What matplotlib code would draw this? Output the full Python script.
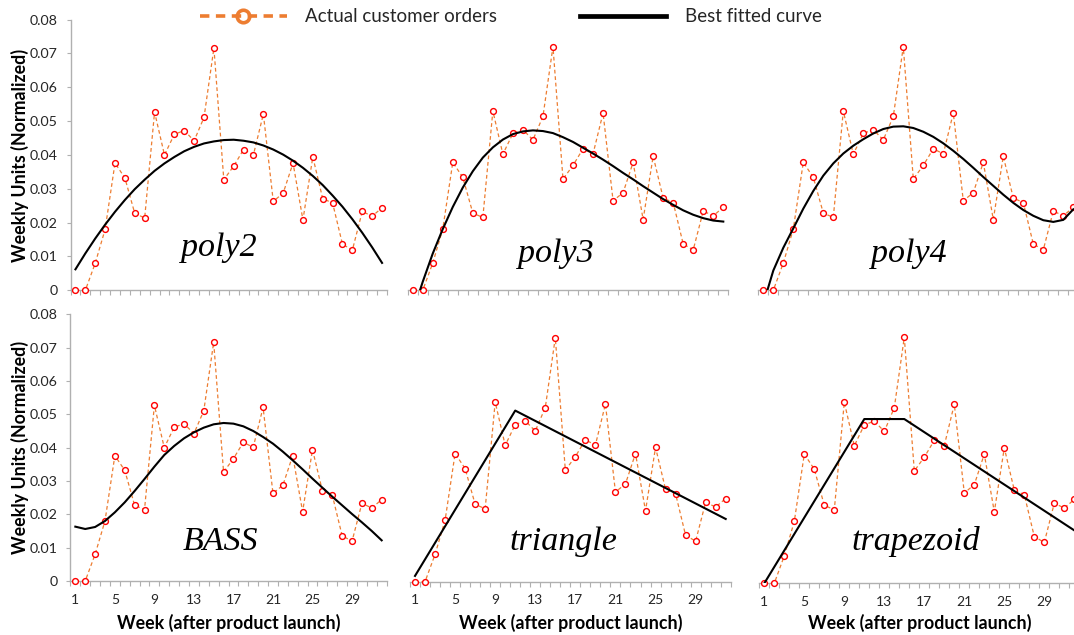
import matplotlib
matplotlib.use("Agg")
import matplotlib.pyplot as plt
from matplotlib.lines import Line2D

# ---------------- data ----------------
weeks = list(range(1, 33))
orders = [0.0, 0.0, 0.0080, 0.0180, 0.0376, 0.0332, 0.0227, 0.0214, 0.0527, 0.0400,
          0.0461, 0.0472, 0.0442, 0.0511, 0.0716, 0.0327, 0.0367, 0.0416, 0.0401, 0.0521,
          0.0263, 0.0287, 0.0376, 0.0208, 0.0394, 0.0271, 0.0258, 0.0136, 0.0119, 0.0233,
          0.0219, 0.0244]

poly2_fit = [0.0062, 0.0109, 0.0153, 0.0194, 0.0232, 0.0267, 0.0299, 0.0327, 0.0353, 0.0375,
             0.0394, 0.0411, 0.0424, 0.0434, 0.0440, 0.0444, 0.0445, 0.0442, 0.0437, 0.0428,
             0.0416, 0.0401, 0.0383, 0.0362, 0.0338, 0.0311, 0.0280, 0.0247, 0.0210, 0.0170,
             0.0127, 0.0081]
poly3_fit = [-0.0066, 0.0025, 0.0108, 0.0180, 0.0245, 0.0302, 0.0350, 0.0390, 0.0420, 0.0443,
             0.0459, 0.0467, 0.0470, 0.0468, 0.0462, 0.0450, 0.0436, 0.0419, 0.0402, 0.0384,
             0.0365, 0.0345, 0.0326, 0.0306, 0.0287, 0.0268, 0.0251, 0.0235, 0.0222, 0.0212,
             0.0205, 0.0202]
poly4_fit = [-0.0040, 0.0058, 0.0125, 0.0182, 0.0240, 0.0292, 0.0337, 0.0373, 0.0402, 0.0425,
             0.0444, 0.0461, 0.0474, 0.0481, 0.0482, 0.0477, 0.0466, 0.0451, 0.0432, 0.0410,
             0.0386, 0.0360, 0.0333, 0.0307, 0.0281, 0.0257, 0.0236, 0.0219, 0.0206, 0.0201,
             0.0207, 0.0238]
bass_fit = [0.0163, 0.0156, 0.0162, 0.0180, 0.0206, 0.0236, 0.0270, 0.0306, 0.0343, 0.0378,
            0.0405, 0.0428, 0.0446, 0.0460, 0.0470, 0.0474, 0.0472, 0.0464, 0.0450, 0.0432,
            0.0412, 0.0388, 0.0362, 0.0335, 0.0307, 0.0280, 0.0253, 0.0227, 0.0201, 0.0176,
            0.0150, 0.0122]
triangle_weeks = [1, 11, 32]
triangle_fit = [0.0017, 0.0502, 0.0184]
trapezoid_weeks = [1, 11, 15, 32]
trapezoid_fit = [0.0, 0.0478, 0.0478, 0.0154]

ytick_vals = [0, 0.01, 0.02, 0.03, 0.04, 0.05, 0.06, 0.07, 0.08]
ytick_labels = ["0", "0.01", "0.02", "0.03", "0.04", "0.05", "0.06", "0.07", "0.08"]
xtick_weeks = [1, 5, 9, 13, 17, 21, 25, 29]
xtick_labels = ["1", "5", "9", "13", "17", "21", "25", "29"]

panel_names = ["poly2", "poly3", "poly4", "BASS", "triangle", "trapezoid"]
fit_x = [weeks, weeks, weeks, weeks, triangle_weeks, trapezoid_weeks]
fit_y = [poly2_fit, poly3_fit, poly4_fit, bass_fit, triangle_fit, trapezoid_fit]

legend_labels = ["Actual customer orders", "Best fitted curve"]
xlabel_text = "Week (after product launch)"
ylabel_text = "Weekly Units (Normalized)"

# ---------------- layout (pixels) ----------------
W, H = 1074, 635
fig = plt.figure(figsize=(W / 100, H / 100), dpi=100)
fig.patch.set_facecolor("white")

# (left px of week 0.5, right px of week 32.5, px of value 0, px of value 0.08)
boxes = [(70.5, 387.0, 290.3, 19.6), (407.7, 728.3, 290.3, 18.1), (758.3, 1078.3, 290.3, 18.1),
         (70.4, 386.6, 581.0, 314.3), (410.0, 730.7, 581.7, 309.0), (759.3, 1079.3, 583.3, 308.4)]
text_pos = [(0.469, 0.127), (0.461, 0.105), (0.471, 0.105),
            (0.475, 0.116), (0.480, 0.116), (0.489, 0.121)]

SANS = "Lato"
GREY = "#B0B0B0"
TXT = "#262626"
ORANGE = "#ED7D31"
LABEL_SIZE = 12.8

for i, (x0, x1, y0, yt) in enumerate(boxes):
    ax = fig.add_axes([x0 / W, 1 - y0 / H, (x1 - x0) / W, (y0 - yt) / H])
    ax.set_xlim(0.5, 32.5)
    ax.set_ylim(0, 0.08)
    ax.patch.set_alpha(0)
    for s in ["top", "right"]:
        ax.spines[s].set_visible(False)
    ax.spines["bottom"].set_color(GREY)
    ax.spines["bottom"].set_linewidth(1.0)
    col = i % 3
    row = i // 3

    ax.plot(weeks, orders, color=ORANGE, lw=0.9, ls=(0, (3, 2.2)), marker="o", ms=4.2,
            mfc="white", mec="red", mew=1.0, clip_on=False, zorder=3)
    ax.plot(fit_x[i], fit_y[i], color="black", lw=1.5, zorder=4)

    # x ticks: category boundaries as minor ticks, labels at selected weeks
    ax.set_xticks([w + 0.5 for w in [0] + weeks], minor=True)
    ax.tick_params(axis="x", which="minor", length=3.5, width=0.8, color=GREY, direction="out")
    ax.set_xticks(xtick_weeks)
    if row == 1:
        ax.set_xticklabels(xtick_labels)
        ax.set_xlabel(xlabel_text, fontsize=LABEL_SIZE, fontweight="bold", family=SANS,
                      color="black")
        ax.xaxis.set_label_coords(0.5, (y0 - 623) / (y0 - yt))
        ax.xaxis.label.set_va("center")
    else:
        ax.set_xticklabels([])
    ax.tick_params(axis="x", which="major", length=0, pad=9, labelsize=10, labelcolor=TXT)
    for lab in ax.get_xticklabels():
        lab.set_family(SANS)

    if col == 0:
        ax.spines["left"].set_color(GREY)
        ax.spines["left"].set_linewidth(1.0)
        ax.set_yticks(ytick_vals)
        ax.set_yticklabels(ytick_labels)
        ax.tick_params(axis="y", length=3, width=0.8, color=GREY, pad=6, labelsize=10.3,
                       labelcolor=TXT)
        for lab in ax.get_yticklabels():
            lab.set_family(SANS)
        ax.set_ylabel(ylabel_text, fontsize=LABEL_SIZE, fontweight="bold", family=SANS,
                      color="black")
        ax.yaxis.set_label_coords((19.5 - x0) / (x1 - x0), 0.5)
        ax.yaxis.label.set_va("center")
    else:
        ax.spines["left"].set_visible(False)
        ax.set_yticks([])

    tx, ty = text_pos[i]
    ax.text(tx, ty, panel_names[i], transform=ax.transAxes, ha="center", va="baseline",
            fontsize=24.5, family="Liberation Serif", style="italic", color="black", zorder=5)

h1 = Line2D([], [], color=ORANGE, lw=2.6, ls=(0, (2.6, 1.8)), marker="o", ms=9,
            mfc="none", mec=ORANGE, mew=2.6)
h2 = Line2D([], [], color="black", lw=3.4)
fig.legend([h1, h2], legend_labels, loc="center", bbox_to_anchor=(511 / W, 1 - 17 / H),
           ncol=2, frameon=False, handlelength=4.6, columnspacing=4.4, handletextpad=1.0,
           prop={"family": SANS, "size": 13.5}, labelcolor=TXT)

fig.savefig("out.png", dpi=100)
